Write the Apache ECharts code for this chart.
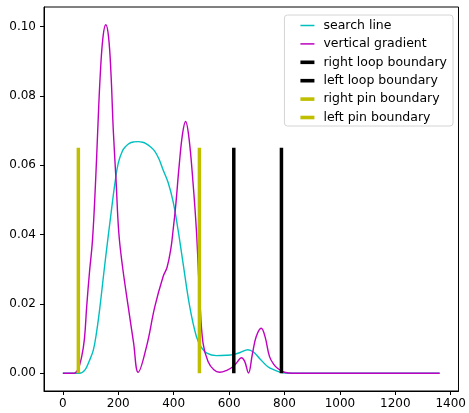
<!DOCTYPE html>
<html>
<head>
<meta charset="utf-8">
<script src="https://cdn.jsdelivr.net/npm/echarts@6/dist/echarts.min.js"></script>
<style>
  html, body { margin: 0; padding: 0; background: #fff; }
  #chart { width: 469px; height: 413px; }
</style>
</head>
<body>
<div id="chart"></div>
<script>
// search line (cyan)
const searchX = [0, 60, 80, 95, 110, 122, 134, 148, 162, 174, 188, 200, 215, 228, 240, 256, 272, 288, 300, 316, 332, 347, 362, 380, 398, 416, 434, 458, 482, 500, 520, 554, 590, 614, 640, 668, 690, 710, 740, 765, 790, 820, 1360];
const searchY = [0, 0, 0.001, 0.0035, 0.0067, 0.012, 0.0192, 0.029, 0.0384, 0.0461, 0.0548, 0.0606, 0.0641, 0.0655, 0.0663, 0.0667, 0.0668, 0.0666, 0.0662, 0.0653, 0.0640, 0.0618, 0.0586, 0.055, 0.0495, 0.0413, 0.0317, 0.0192, 0.0106, 0.0075, 0.0058, 0.0051, 0.0052, 0.0054, 0.006, 0.0068, 0.006, 0.0043, 0.0019, 0.0009, 0.0002, 0, 0];

// vertical gradient (magenta)
const gradX = [0, 40, 55, 68, 78, 86, 96, 107, 118, 126, 135, 145, 155, 165, 174, 182, 192, 202, 215, 236, 255, 272, 302, 332, 362, 376, 390, 398, 407, 420, 432, 443, 455, 470, 482, 494, 506, 524, 545, 566, 590, 614, 630, 644, 656, 670, 684, 698, 716, 730, 746, 762, 776, 800, 830, 1360];
const gradY = [0, 0, 0.0012, 0.0048, 0.010, 0.0192, 0.029, 0.0384, 0.055, 0.0702, 0.086, 0.097, 0.1005, 0.097, 0.086, 0.0702, 0.0557, 0.0405, 0.031, 0.0192, 0.009, 0.0003, 0.0077, 0.0192, 0.0279, 0.0305, 0.036, 0.0413, 0.048, 0.060, 0.069, 0.0726, 0.068, 0.0548, 0.0413, 0.022, 0.0087, 0.0034, 0.001, 0.0003, 0.0008, 0.0019, 0.0033, 0.0045, 0.0035, 0.0001, 0.0055, 0.0106, 0.013, 0.0105, 0.0048, 0.0025, 0.0014, 0.0003, 0, 0];

// boundaries
const boundaryNames = ["right loop boundary", "left loop boundary", "right pin boundary", "left pin boundary"];
const boundaryX = [617, 789, 493, 56];
const boundaryColors = ["#000000", "#000000", "#bfbf00", "#bfbf00"];
const boundaryHeight = 0.065;

const xTicks = [0, 200, 400, 600, 800, 1000, 1200, 1400];
const yTicks = [0, 0.02, 0.04, 0.06, 0.08, 0.10];

const font = "DejaVu Sans";
const thinIcon = "path://M0,0 H14 V1.5 H0 Z";
const thickIcon = "path://M0,0 H14 V3.6 H0 Z";

function pairs(xs, ys) {
  return xs.map((x, i) => [x, ys[i]]);
}

const chart = echarts.init(document.getElementById("chart"), null, { renderer: "canvas" });

let series = [
  {
    name: "search line",
    type: "line",
    data: pairs(searchX, searchY),
    smooth: 0.4,
    symbol: "none",
    lineStyle: { color: "#00bfbf", width: 1.4 },
    itemStyle: { color: "#00bfbf" }
  },
  {
    name: "vertical gradient",
    type: "line",
    data: pairs(gradX, gradY),
    smooth: 0.4,
    symbol: "none",
    lineStyle: { color: "#bf00bf", width: 1.4 },
    itemStyle: { color: "#bf00bf" }
  }
];

boundaryNames.forEach((name, i) => {
  series.push({
    name: name,
    type: "line",
    data: [[boundaryX[i], 0], [boundaryX[i], boundaryHeight]],
    symbol: "none",
    lineStyle: { color: boundaryColors[i], width: 3.5 },
    itemStyle: { color: boundaryColors[i] }
  });
});

let legendData = [
  { name: "search line", icon: thinIcon },
  { name: "vertical gradient", icon: thinIcon }
].concat(boundaryNames.map(n => ({ name: n, icon: thickIcon })));

chart.setOption({
  animation: false,
  grid: {
    left: 44, right: 9, top: 7, bottom: 22,
    show: true, borderColor: "#000", borderWidth: 1
  },
  legend: {
    orient: "vertical",
    right: 16,
    top: 15,
    padding: [4, 6, 2, 16],
    itemWidth: 14,
    itemHeight: 12,
    itemGap: 5.4,
    symbolKeepAspect: true,
    backgroundColor: "rgba(255,255,255,0.8)",
    borderColor: "#d4d4d4",
    borderWidth: 1,
    borderRadius: 3,
    textStyle: { fontFamily: font, fontSize: 12.5, color: "#000", padding: [0, 0, 0, 4] },
    data: legendData
  },
  xAxis: {
    type: "value",
    min: -68,
    max: 1428,
    splitLine: { show: false },
    axisLine: { onZero: false, lineStyle: { color: "#000" } },
    axisTick: { show: true, length: 4, customValues: xTicks, lineStyle: { color: "#000" } },
    axisLabel: {
      customValues: xTicks, fontFamily: font, fontSize: 12, color: "#000", margin: 7,
      formatter: v => String(v)
    }
  },
  yAxis: {
    type: "value",
    min: -0.0051,
    max: 0.1056,
    splitLine: { show: false },
    axisLine: { show: true, onZero: false, lineStyle: { color: "#000" } },
    axisTick: { show: true, length: 4, customValues: yTicks, lineStyle: { color: "#000" } },
    axisLabel: {
      customValues: yTicks, fontFamily: font, fontSize: 12, color: "#000", margin: 8,
      formatter: v => v.toFixed(2)
    }
  },
  series: series
});
</script>
</body>
</html>
